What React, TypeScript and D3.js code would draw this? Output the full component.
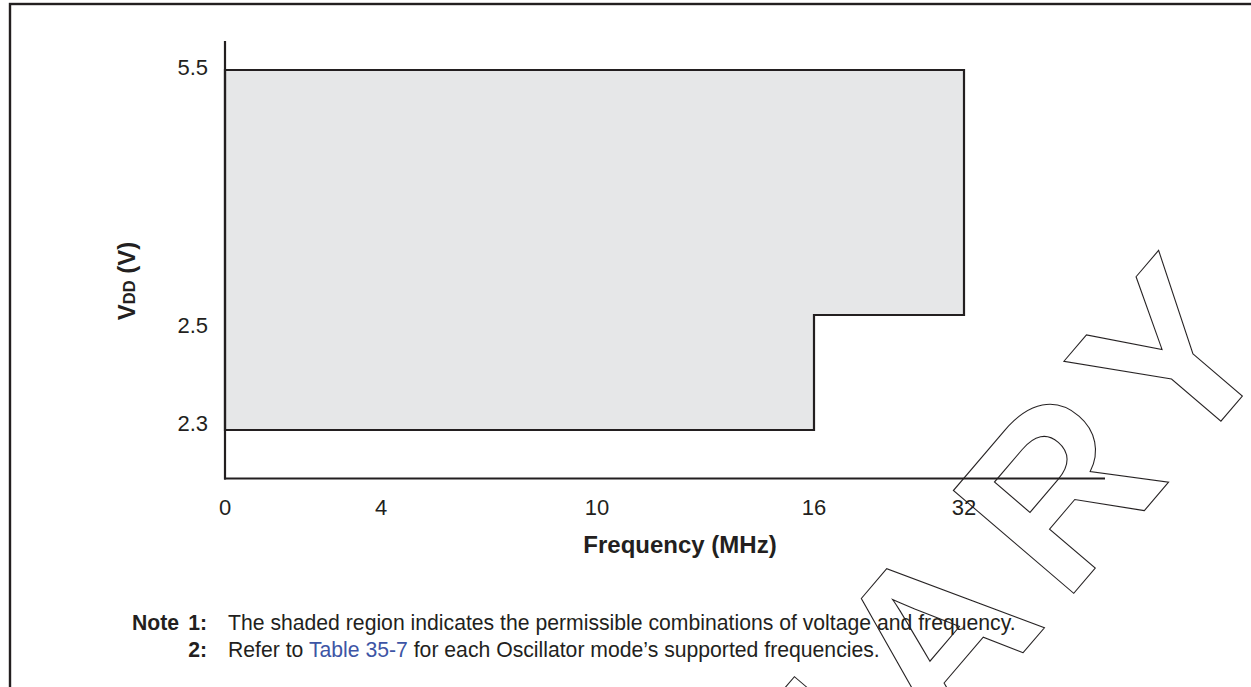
import React from "react";
import * as d3 from "d3";

// ---- data ----
const freqTicks = [0, 4, 10, 16, 32];
const vddTicks = [2.3, 2.5, 5.5];
const regionFreq = [0, 32, 32, 16, 16, 0];
const regionVdd = [5.5, 5.5, 2.5, 2.5, 2.3, 2.3];
const xTitle = "Frequency (MHz)";
const noteLines = [
  { num: "1:", parts: [{ t: "The shaded region indicates the permissible combinations of voltage and frequency.", link: false }] },
  {
    num: "2:",
    parts: [
      { t: "Refer to ", link: false },
      { t: "Table 35-7", link: true },
      { t: " for each Oscillator mode\u2019s supported frequencies.", link: false },
    ],
  },
];
const watermark = "PRELIMINARY";

const W = 1251;
const H = 687;
const INK = "#231f20";
const FONT = "'Liberation Sans', Arial, Helvetica, sans-serif";

export default function App() {
  // non-uniform axes, as in the datasheet figure
  const x = d3.scaleLinear().domain(freqTicks).range([225, 381, 597, 814, 964]);
  const y = d3.scaleLinear().domain(vddTicks).range([430, 315, 70]);
  const yLabel = d3.scaleLinear().domain(vddTicks).range([423, 325, 67]);

  const pts: [number, number][] = regionFreq.map((f, i) => [x(f), y(regionVdd[i])]);
  const area = d3.line().curve(d3.curveLinearClosed)(pts) || "";

  const axisY = 478.5;
  const axisTop = 41;
  const axisRight = 1105;

  return (
    <svg
      width={W}
      height={H}
      viewBox={`0 0 ${W} ${H}`}
      style={{ position: "absolute", left: 0, top: 0, background: "#fff" }}
      fontFamily={FONT}
    >
      <rect x={0} y={0} width={W} height={H} fill="#fff" />
      {/* outer frame */}
      <rect x={10} y={4} width={W + 50} height={H + 50} fill="none" stroke={INK} strokeWidth={2.4} />

      {/* shaded region */}
      <path d={area} fill="#e6e7e8" stroke={INK} strokeWidth={2.2} strokeLinejoin="miter" />

      {/* axes */}
      <line x1={x(0)} x2={x(0)} y1={axisTop} y2={axisY + 1} stroke={INK} strokeWidth={2.2} />
      <line x1={x(0) - 1} x2={axisRight} y1={axisY} y2={axisY} stroke={INK} strokeWidth={2.2} />

      {/* y tick labels */}
      {vddTicks.map((v) => (
        <text key={v} x={208} y={yLabel(v)} dy="0.36em" textAnchor="end" fontSize={22} fill={INK}>
          {v.toFixed(1)}
        </text>
      ))}

      {/* x tick labels */}
      {freqTicks.map((f) => (
        <text key={f} x={x(f)} y={515} textAnchor="middle" fontSize={22} fill={INK}>
          {f}
        </text>
      ))}

      {/* x title */}
      <text x={680} y={553} textAnchor="middle" fontSize={24} fontWeight="bold" fill={INK}>
        {xTitle}
      </text>

      {/* y title */}
      <text
        transform="translate(135,281) rotate(-90)"
        textAnchor="middle"
        fontSize={24}
        fontWeight="bold"
        fill={INK}
      >
        V<tspan fontSize={16.5}>DD</tspan> (V)
      </text>

      {/* notes */}
      <text x={132} y={630} fontSize={21.2} fontWeight="bold" fill={INK}>
        Note
      </text>
      {noteLines.map((ln, i) => (
        <g key={i}>
          <text x={207} y={630 + i * 27} textAnchor="end" fontSize={21.2} fontWeight="bold" fill={INK}>
            {ln.num}
          </text>
          <text x={228} y={630 + i * 27} fontSize={21.2} fill={INK}>
            {ln.parts.map((p, j) => (
              <tspan key={j} fill={p.link ? "#3d55a5" : INK}>
                {p.t}
              </tspan>
            ))}
          </text>
        </g>
      ))}

      {/* watermark */}
      <text
        transform="translate(1297,332) rotate(-49.5)"
        textAnchor="end"
        fontSize={230}
        fontWeight="bold"
        letterSpacing={24}
        fill="none"
        stroke={INK}
        strokeWidth={1.1}
      >
        {watermark}
      </text>
    </svg>
  );
}
